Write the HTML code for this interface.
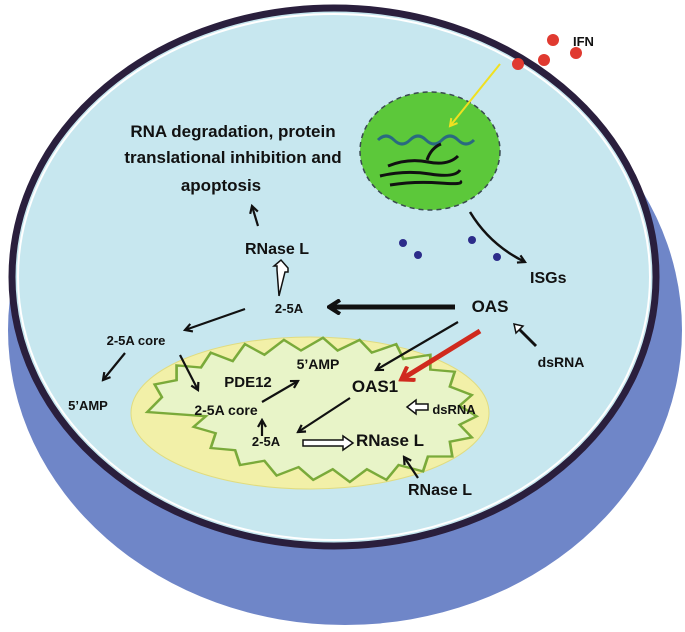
<!DOCTYPE html>
<html><head><meta charset="utf-8"><style>
html,body{margin:0;padding:0;background:#fff;}
svg{display:block;}
text{font-family:"Liberation Sans",sans-serif;font-weight:bold;fill:#111;}
</style></head><body>
<svg width="685" height="632" viewBox="0 0 685 632" xmlns="http://www.w3.org/2000/svg">
<defs>
<marker id="ah" markerWidth="10" markerHeight="10" refX="8" refY="5" orient="auto" markerUnits="userSpaceOnUse"><path d="M1,1 L8,5 L1,9" fill="none" stroke="#111" stroke-width="2.2"/></marker>
<marker id="ahb" markerWidth="14" markerHeight="16" refX="11" refY="8" orient="auto" markerUnits="userSpaceOnUse"><path d="M1,1 L12,8 L1,15" fill="none" stroke="#111" stroke-width="4"/></marker>
<marker id="ahr" markerWidth="16" markerHeight="18" refX="12" refY="9" orient="auto" markerUnits="userSpaceOnUse"><path d="M1,1 L13,9 L1,17" fill="none" stroke="#d02a1e" stroke-width="4"/></marker>
<marker id="ahy" markerWidth="10" markerHeight="10" refX="8" refY="5" orient="auto" markerUnits="userSpaceOnUse"><path d="M1,1 L8,5 L1,9" fill="none" stroke="#f0e020" stroke-width="2"/></marker>
</defs>
<ellipse cx="345" cy="330" rx="337" ry="295" fill="#6f86c8"/>
<ellipse cx="334" cy="277" rx="322" ry="269" fill="#c7e7ef" stroke="#2a1f3d" stroke-width="7"/>
<ellipse cx="334" cy="277" rx="316" ry="263" fill="none" stroke="#fff" stroke-width="2"/>
<circle cx="553" cy="40" r="6" fill="#e03a30"/>
<circle cx="576" cy="53" r="6" fill="#e03a30"/>
<circle cx="544" cy="60" r="6" fill="#e03a30"/>
<circle cx="518" cy="64" r="6" fill="#e03a30"/>
<text x="573" y="46" font-size="13">IFN</text>
<ellipse cx="430" cy="151" rx="70" ry="59" fill="#5cc83a" stroke="#3a4a50" stroke-width="1.5" stroke-dasharray="5,4"/>
<path d="M378,140 q8,-8 16,0 t16,0 t16,0 t16,0 t16,0 t16,0" fill="none" stroke="#2a6a80" stroke-width="3"/>
<path d="M388,166 q20,-8 40,-4 t30,-6" fill="none" stroke="#111" stroke-width="3"/>
<path d="M380,176 q25,-6 50,-2 t30,-4" fill="none" stroke="#111" stroke-width="3"/>
<path d="M390,185 q25,-4 50,-2 t20,-2" fill="none" stroke="#111" stroke-width="3"/>
<path d="M427,160 q4,-12 14,-16" fill="none" stroke="#111" stroke-width="3"/>
<line x1="500" y1="64" x2="450" y2="126" stroke="#f0e020" stroke-width="2" marker-end="url(#ahy)"/>
<circle cx="403" cy="243" r="4" fill="#2c2c8a"/><circle cx="418" cy="255" r="4" fill="#2c2c8a"/>
<circle cx="472" cy="240" r="4" fill="#2c2c8a"/><circle cx="497" cy="257" r="4" fill="#2c2c8a"/>
<path d="M470,212 Q490,245 525,262" fill="none" stroke="#111" stroke-width="2.5" marker-end="url(#ah)"/>
<text x="530" y="283" font-size="16">ISGs</text>
<text x="233" y="137" font-size="17" text-anchor="middle">RNA degradation, protein</text>
<text x="233" y="163" font-size="17" text-anchor="middle">translational inhibition and</text>
<text x="221" y="191" font-size="17" text-anchor="middle">apoptosis</text>
<line x1="258" y1="226" x2="252" y2="206" stroke="#111" stroke-width="2.2" marker-end="url(#ah)"/>
<text x="277" y="254" font-size="16" text-anchor="middle">RNase L</text>
<path d="M279,296 l6,-24 h3 l0,-4 l-7,-8 l-7,6 h3 l0,4 z" fill="#fff" stroke="#111" stroke-width="1.5"/>
<text x="289" y="313" font-size="13" text-anchor="middle">2-5A</text>
<line x1="455" y1="307" x2="330" y2="307" stroke="#111" stroke-width="5" marker-end="url(#ahb)"/>
<text x="490" y="312" font-size="17" text-anchor="middle">OAS</text>
<path d="M536,345 l-16,-16 l3,-3 l-9,-2 l2,9 l3,-3 l16,16 z" fill="#fff" stroke="#111" stroke-width="1.5"/>
<text x="561" y="367" font-size="14" text-anchor="middle">dsRNA</text>
<line x1="245" y1="309" x2="185" y2="330" stroke="#111" stroke-width="2.2" marker-end="url(#ah)"/>
<text x="136" y="345" font-size="13" text-anchor="middle">2-5A core</text>
<line x1="125" y1="353" x2="103" y2="380" stroke="#111" stroke-width="2.2" marker-end="url(#ah)"/>
<text x="88" y="410" font-size="13" text-anchor="middle">5’AMP</text>
<ellipse cx="310" cy="413" rx="179" ry="76" fill="#f2f0a8" stroke="#e0dc80" stroke-width="1"/>
<g transform="translate(312,412) scale(1.22,1.06) translate(-300,-413)">
<path d="M165,413 l12,-14 l-6,-12 l18,-4 l0,-14 l20,2 l8,-14 l18,8 l10,-16 l16,10 l16,-14 l14,10 l18,-12 l12,12 l18,-10 l10,12 l20,-8 l6,14 l22,-4 l0,14 l20,2 l-4,14 l18,8 l-10,10 l14,10 l-14,8 l10,12 l-18,4 l2,14 l-20,0 l-4,14 l-20,-6 l-10,14 l-16,-10 l-14,12 l-14,-12 l-16,10 l-12,-12 l-18,8 l-10,-14 l-20,4 l-4,-14 l-20,-2 l4,-14 l-18,-6 l10,-10 z" fill="#e8f4c8" stroke="#7aaa3a" stroke-width="2.2"/>
</g>
<line x1="180" y1="355" x2="198" y2="390" stroke="#111" stroke-width="2.2" marker-end="url(#ah)"/>
<text x="248" y="387" font-size="15" text-anchor="middle">PDE12</text>
<text x="318" y="369" font-size="14" text-anchor="middle">5’AMP</text>
<line x1="262" y1="402" x2="298" y2="381" stroke="#111" stroke-width="2.2" marker-end="url(#ah)"/>
<text x="226" y="415" font-size="14" text-anchor="middle">2-5A core</text>
<line x1="262" y1="436" x2="262" y2="420" stroke="#111" stroke-width="2.2" marker-end="url(#ah)"/>
<text x="266" y="446" font-size="13" text-anchor="middle">2-5A</text>
<line x1="458" y1="322" x2="376" y2="370" stroke="#111" stroke-width="2.2" marker-end="url(#ah)"/>
<line x1="480" y1="331" x2="402" y2="379" stroke="#d02a1e" stroke-width="5" marker-end="url(#ahr)"/>
<text x="375" y="392" font-size="17" text-anchor="middle">OAS1</text>
<path d="M428,410 v-6 h-12 v-4 l-9,7 l9,7 v-4 h12 z" fill="#fff" stroke="#111" stroke-width="1.5"/>
<text x="454" y="414" font-size="13" text-anchor="middle">dsRNA</text>
<line x1="350" y1="398" x2="298" y2="432" stroke="#111" stroke-width="2.2" marker-end="url(#ah)"/>
<path d="M303,440 h40 v-4 l10,7 l-10,7 v-4 h-40 z" fill="#fff" stroke="#111" stroke-width="1.5"/>
<text x="390" y="446" font-size="17" text-anchor="middle">RNase L</text>
<line x1="418" y1="478" x2="404" y2="457" stroke="#111" stroke-width="2.2" marker-end="url(#ah)"/>
<text x="440" y="495" font-size="16" text-anchor="middle">RNase L</text>
</svg>
</body></html>
